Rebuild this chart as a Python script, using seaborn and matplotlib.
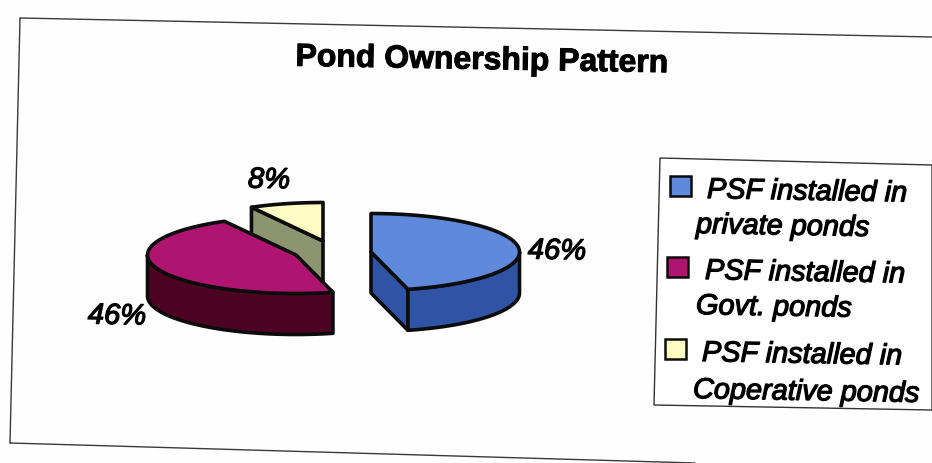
import numpy as np
import matplotlib
matplotlib.use("Agg")
import matplotlib.pyplot as plt
import matplotlib.patheffects as pe
from matplotlib.patches import Polygon
import seaborn as sns

title = "Pond Ownership Pattern"
legend_lines = [
    ("PSF installed in", "private ponds"),
    ("PSF installed in", "Govt. ponds"),
    ("PSF installed in", "Coperative ponds"),
]
shares = [46, 46, 8]

sns.set_theme(style="white")
plt.rcParams["font.family"] = ["Liberation Sans", "DejaVu Sans"]

top_colors = sns.color_palette(["#5F8ADB", "#AE1470", "#FFFDC4"])
rim_colors = sns.color_palette(["#2F54A6", "#4D0422", "#8C9470"])
INK = "#0c0c0c"

# slice centres after explosion, ellipse radii and extrusion depth, in pixels
centres = [(371, 252), (296, 255), (323, 241)]
RX, RY, DEPTH = 148.5, 38.5, 41

fig = plt.figure(figsize=(9.32, 4.63), dpi=100, facecolor="#fefefe")
ax = fig.add_axes([0, 0, 1, 1])
ax.set_xlim(0, 932)
ax.set_ylim(463, 0)
ax.axis("off")


def rim_point(cx, cy, deg):
    a = np.radians(deg)
    return cx + RX * np.sin(a), cy - RY * np.cos(a)


def arc(cx, cy, d0, d1):
    degs = np.linspace(d0, d1, 80)
    return np.column_stack(rim_point(cx, cy, degs))


def poly(points, color, z):
    ax.add_patch(Polygon(points, closed=True, facecolor=color, edgecolor=INK,
                         linewidth=2.6, joinstyle="round", zorder=z))


def draw_slice(i, d0, d1, z):
    cx, cy = centres[i]
    centre = np.array([[cx, cy]])
    down = np.array([0, DEPTH])
    # cut face on the edge that looks at the viewer
    if i == 0:
        end = np.array(rim_point(cx, cy, d1))
        poly([centre[0], end, end + down, centre[0] + down], rim_colors[0], z)
    if i == 2:
        start = np.array(rim_point(cx, cy, d0))
        poly([centre[0], start, start + down, centre[0] + down], rim_colors[2], z)
    # outer wall, only where the rim faces front
    lo, hi = max(d0, 90), min(d1, 270)
    if lo < hi:
        wall = arc(cx, cy, lo, hi)
        poly(np.vstack([wall, (wall + down)[::-1]]), rim_colors[i], z + 0.1)
    # top face
    poly(np.vstack([centre, arc(cx, cy, d0, d1)]), top_colors[i], z + 0.2)


# paint back to front: small slice, then the large ones
edges = np.concatenate([[0], np.cumsum(shares)]) * 3.6
for i, z in [(2, 2), (1, 3), (0, 4)]:
    draw_slice(i, edges[i], edges[i + 1], z)

# outer frame, slightly skewed
frame_kw = dict(color="#3a3a3a", linewidth=1.0, zorder=1)
ax.plot([20, 932], [18, 37], **frame_kw)
ax.plot([20, 10], [18, 443], **frame_kw)
ax.plot([10, 695], [443, 463], **frame_kw)

heavy = [pe.withStroke(linewidth=0.9, foreground="black")]
tilt = -1.0

ax.text(482, 61, title, fontsize=23, fontweight="bold", color="black",
        ha="center", va="center", rotation=tilt, rotation_mode="anchor",
        path_effects=[pe.withStroke(linewidth=0.7, foreground="black")])

label_spots = [(557, 251), (269, 180), (117, 316)]
for spot, v in zip(label_spots, shares[:1] + shares[2:] + shares[1:2]):
    ax.text(spot[0], spot[1], f"{v}%", fontsize=21, fontstyle="italic", color="black",
            ha="center", va="center", rotation=tilt, rotation_mode="anchor",
            path_effects=heavy)

# legend box
ax.add_patch(Polygon([(660, 158), (932, 165), (932, 410), (654, 405)], closed=True,
                     facecolor="white", edgecolor="#333333", linewidth=1.0, zorder=5))
swatches = [(670, 176), (667, 257), (665, 339)]
line_one_x = [707, 705, 702]
line_two_x = [696, 696, 693]
line_ys = [(190, 225), (271, 306), (353, 390)]
for k, lines in enumerate(legend_lines):
    sx, sy = swatches[k]
    ax.add_patch(Polygon([(sx, sy), (sx + 21, sy), (sx + 21, sy + 20), (sx, sy + 20)],
                         closed=True, facecolor=top_colors[k], edgecolor=INK,
                         linewidth=1.8, zorder=6))
    ax.text(line_one_x[k], line_ys[k][0], lines[0], fontsize=20.8, fontstyle="italic",
            color="black", ha="left", va="center", rotation=tilt,
            rotation_mode="anchor", path_effects=heavy, zorder=6)
    ax.text(line_two_x[k], line_ys[k][1], lines[1], fontsize=20.8, fontstyle="italic",
            color="black", ha="left", va="center", rotation=tilt,
            rotation_mode="anchor", path_effects=heavy, zorder=6)

fig.savefig("out.png", dpi=100, facecolor=fig.get_facecolor())
